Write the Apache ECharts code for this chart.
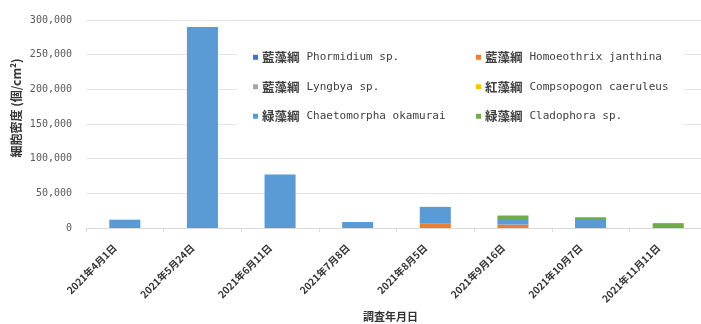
<!DOCTYPE html>
<html><head><meta charset="utf-8">
<script src="https://cdn.jsdelivr.net/npm/echarts@6/dist/echarts.min.js"></script>
<style>html,body{margin:0;padding:0;background:#fff}#c{width:701px;height:324px}</style>
</head><body><div id="c"></div>
<script>
const categories = ['2021年4月1日','2021年5月24日','2021年6月11日','2021年7月8日','2021年8月5日','2021年9月16日','2021年10月7日','2021年11月11日'];
const seriesNames = ['藍藻綱 Phormidium sp.','藍藻綱 Homoeothrix janthina','藍藻綱 Lyngbya sp.','紅藻綱 Compsopogon caeruleus','緑藻綱 Chaetomorpha okamurai','緑藻綱 Cladophora sp.'];
const phormidium = [0,0,0,0,0,0,0,0];
const homoeothrix = [0,0,0,0,7000,5000,0,0];
const lyngbya = [0,0,0,0,0,0,0,0];
const compsopogon = [0,0,0,0,0,0,0,0];
const chaetomorpha = [12000,290000,77000,8700,23500,8000,13000,0];
const cladophora = [0,0,0,0,0,5000,2500,7000];
const colors = ['#4472C4','#ED7D31','#A5A5A5','#FFC000','#5B9BD5','#70AD47'];
const values = [phormidium, homoeothrix, lyngbya, compsopogon, chaetomorpha, cladophora];
const yTicks = {min:0, max:300000, interval:50000};
const yAxisTitle = '細胞密度 (個/cm²)';
const xAxisTitle = '調査年月日';

const mono = "'DejaVu Sans Mono', 'Noto Sans CJK JP', monospace";
const cjk = "'Noto Sans CJK JP'";
const chart = echarts.init(document.getElementById('c'));
const legendCommon = {
  orient:'vertical', top:46, itemGap:17, itemWidth:5, itemHeight:5, icon:'rect',
  formatter: n => { const p = n.indexOf(' '); return '{c|' + n.slice(0,p) + '}{l|' + n.slice(p+1) + '}'; },
  textStyle:{color:'#404040', padding:[0,0,0,-1],
    rich:{c:{fontFamily:cjk, fontSize:12.5, fontWeight:'bold', color:'#404040', padding:[0,7,0,0]},
          l:{fontFamily:mono, fontSize:11, color:'#404040'}}},
  z:10
};
chart.setOption({
  animation:false,
  color: colors,
  grid:{left:86, width:621, top:20, height:208, outerBoundsMode:'none', containLabel:false},
  graphic:[
    {type:'rect', shape:{x:237, y:40, width:447, height:92}, style:{fill:'#fff'}, z:5},
    {type:'text', x:16, y:108, rotation:Math.PI/2, z:10,
     style:{text:yAxisTitle, fontFamily:cjk, fontSize:12, fontWeight:'bold', fill:'#333', align:'center', verticalAlign:'middle'}}
  ],
  legend:[
    Object.assign({left:248, data:[seriesNames[0],seriesNames[2],seriesNames[4]]}, legendCommon),
    Object.assign({left:471, data:[seriesNames[1],seriesNames[3],seriesNames[5]]}, legendCommon)
  ],
  xAxis:{
    type:'category', data:categories,
    name:xAxisTitle, nameLocation:'middle', nameGap:80,
    nameTextStyle:{fontFamily:cjk, fontSize:11, fontWeight:'bold', color:'#333', padding:[0,12,0,0]},
    axisLine:{lineStyle:{color:'#d9d9d9'}},
    axisTick:{show:true, length:4, lineStyle:{color:'#d9d9d9'}},
    axisLabel:{rotate:45, fontFamily:cjk, fontSize:10, fontWeight:'bold', color:'#333', margin:8, padding:[0,14,0,0]}
  },
  yAxis:{
    type:'value', min:yTicks.min, max:yTicks.max, interval:yTicks.interval,
    axisLabel:{fontFamily:mono, fontSize:10, color:'#595959', margin:14,
      formatter:v=>v.toLocaleString('en-US')},
    splitLine:{lineStyle:{color:'#e6e6e6'}},
    axisLine:{show:false}, axisTick:{show:false}
  },
  series: seriesNames.map((n,i)=>({
    name:n, type:'bar', stack:'total', barWidth:'40%', data:values[i], itemStyle:{color:colors[i]}
  }))
});
</script></body></html>
